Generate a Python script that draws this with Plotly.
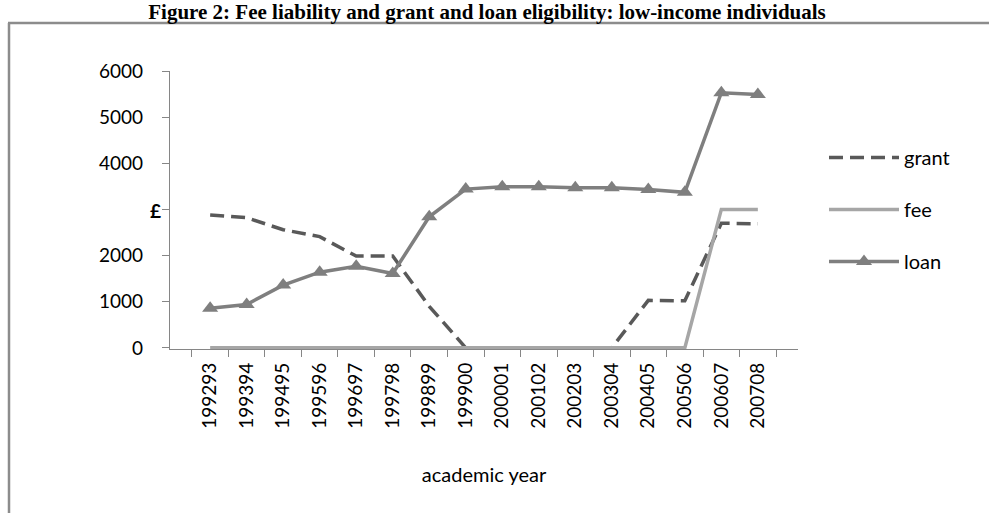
import plotly.graph_objects as go

years = ["199293", "199394", "199495", "199596", "199697", "199798", "199899", "199900",
         "200001", "200102", "200203", "200304", "200405", "200506", "200607", "200708"]
grant = [2880, 2820, 2560, 2410, 1990, 1990, 900, 0, 0, 0, 0, 0, 1030, 1020, 2700, 2690]
fee = [0, 0, 0, 0, 0, 0, 0, 0, 0, 0, 0, 0, 0, 0, 3000, 3000]
loan = [860, 940, 1360, 1640, 1770, 1610, 2840, 3440, 3490, 3490, 3470, 3470, 3430, 3370, 5530, 5490]
y_ticks = [0, 1000, 2000, 3000, 4000, 5000, 6000]
y_ticktext = ["0", "1000", "2000", "", "4000", "5000", "6000"]  # the £ label hides 3000

W, H = 989, 513
L, R, T, B = 170, 191, 71, 164
pw, ph = W - L - R, H - T - B

def px(x):
    return (x - L) / pw

def py(y):
    return (H - B - y) / ph

fig = go.Figure()
fig.add_trace(go.Scatter(x=years, y=grant, name="grant", mode="lines", legendgroup="a",
                         line=dict(color="#595959", width=3.5, dash="14px,7px")))
fig.add_trace(go.Scatter(x=years, y=fee, name="fee", mode="lines", legendgroup="b",
                         line=dict(color="#a6a6a6", width=3.5)))
fig.add_trace(go.Scatter(x=years, y=loan, name="loan", mode="lines+markers", legendgroup="c",
                         line=dict(color="#7f7f7f", width=3.5),
                         marker=dict(symbol="triangle-up", size=14, color="#7f7f7f")))

axis_font = dict(family="Lato, Liberation Sans, sans-serif", size=19, color="#000000")

fig.update_layout(
    width=W, height=H,
    margin=dict(l=L, r=R, t=T, b=B),
    paper_bgcolor="white", plot_bgcolor="white",
    showlegend=True,
    legend=dict(x=px(824), y=py(138), xanchor="left", yanchor="top",
                font=dict(family="Lato, sans-serif", size=20, color="#000000"),
                tracegroupgap=23, traceorder="grouped", itemwidth=70,
                bgcolor="rgba(0,0,0,0)"),
    title=dict(text="<b>Figure 2: Fee liability and grant and loan eligibility: low-income individuals</b>",
               x=487 / W, xanchor="center", y=1 - 12 / H, yanchor="middle",
               font=dict(family="Liberation Serif, Times New Roman, serif", size=21, color="#000000")),
)
fig.update_xaxes(type="category", showgrid=False, showline=True, linecolor="#868686", linewidth=1.3,
                 ticks="outside", tickson="boundaries", ticklen=7, tickcolor="#868686",
                 tickangle=-90, tickfont=axis_font, ticklabelstandoff=5,
                 title=dict(text="academic year", standoff=40,
                            font=dict(family="Lato, sans-serif", size=20, color="#000000")))
fig.update_yaxes(range=[-25, 6000], tickvals=y_ticks, ticktext=y_ticktext,
                 showgrid=False, zeroline=False, showline=True,
                 linecolor="#868686", linewidth=1.3, ticks="outside", ticklen=7, tickcolor="#868686",
                 ticklabelstandoff=15, tickfont=axis_font)

fig.add_annotation(text="<b>£</b>", xref="paper", yref="paper", x=px(148), y=py(210),
                   showarrow=False, font=dict(family="Lato, sans-serif", size=19, color="#000000"))

# outer frame of the figure box
fig.add_shape(type="line", xref="paper", yref="paper", x0=px(8), x1=px(989), y0=py(23), y1=py(23),
              line=dict(color="#8c8c8c", width=2.5))
fig.add_shape(type="line", xref="paper", yref="paper", x0=px(9), x1=px(9), y0=py(23), y1=py(513),
              line=dict(color="#8c8c8c", width=2.5))

fig.write_html("out.html", config={"displayModeBar": False},
               post_script="document.body.style.margin='0px';")
